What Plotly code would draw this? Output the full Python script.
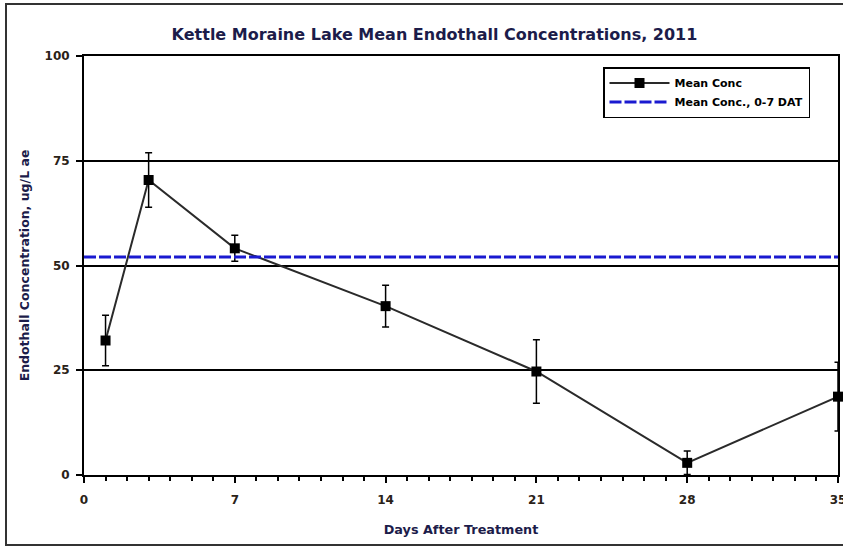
import plotly.graph_objects as go

days = [1, 3, 7, 14, 21, 28, 35]
mean_conc = [32.1, 70.4, 54.1, 40.3, 24.7, 2.9, 18.7]
err = [6.0, 6.5, 3.1, 5.0, 7.6, 2.8, 8.2]
mean_0_7 = 52.0
x_range = [0, 35]
x_ticks = [0, 7, 14, 21, 28, 35]
y_ticks = [0, 25, 50, 75, 100]

title_text = "Kettle Moraine Lake Mean Endothall Concentrations, 2011"
font_family = "DejaVu Sans, Verdana, sans-serif"
navy = "#1c1c4a"
tick_col = "#2a2218"

fig = go.Figure()

fig.add_trace(go.Scatter(
    x=days, y=mean_conc, mode="lines+markers", name="<b>Mean Conc</b>",
    line=dict(color="#2a2a2a", width=2),
    marker=dict(symbol="square", size=10, color="black"),
    error_y=dict(type="data", array=err, visible=True, color="black", thickness=1.5, width=3.5),
    cliponaxis=False,
))

fig.add_trace(go.Scatter(
    x=x_range, y=[mean_0_7, mean_0_7], mode="lines", name="<b>Mean Conc., 0-7 DAT</b>",
    line=dict(color="#1a1ad0", width=3, dash="12px,3px"),
))

fig.update_layout(
    width=843, height=546,
    margin=dict(l=84, r=5, t=56, b=71, autoexpand=False),
    paper_bgcolor="white", plot_bgcolor="white",
    font=dict(family=font_family, color="black", size=11),
    title=dict(text="<b>" + title_text + "</b>", x=(168 + 701) / 2 / 843, xanchor="center",
               y=1 - 34 / 546, yanchor="middle", font=dict(size=16, color=navy)),
    showlegend=True,
    legend=dict(x=(603 - 84) / 754, xanchor="left", y=(475 - 67) / 419, yanchor="top",
                bordercolor="black", borderwidth=1.5, bgcolor="white",
                font=dict(size=11, color="black"), tracegroupgap=0,
                itemwidth=60),
    xaxis=dict(range=x_range, tickvals=x_ticks, ticktext=[f"<b>{t}</b>" for t in x_ticks],
               showgrid=False, zeroline=False, showline=True, linecolor="black", linewidth=2,
               ticks="outside", ticklen=6, tickwidth=2, tickcolor="black",
               minor=dict(dtick=1, ticks="outside", ticklen=4, tickwidth=1.5, tickcolor="black", showgrid=False),
               mirror=True, ticklabelstandoff=7, automargin=False, ticklabeloverflow="allow",
               title=dict(text="<b>Days After Treatment</b>", font=dict(size=12.8, color=navy), standoff=19),
               tickfont=dict(size=12, color=tick_col)),
    yaxis=dict(range=[0, 100], tickvals=y_ticks, ticktext=[f"<b>{t}</b>" for t in y_ticks],
               showgrid=True, gridcolor="black", gridwidth=1.5, zeroline=False,
               showline=True, linecolor="black", linewidth=2,
               ticks="outside", ticklen=6, tickwidth=2, tickcolor="black",
               mirror=True, ticklabelstandoff=4, automargin=False, ticklabeloverflow="allow",
               title=dict(text="<b>Endothall Concentration, ug/L ae</b>", font=dict(size=12.5, color=navy), standoff=12),
               tickfont=dict(size=12, color=tick_col)),
)

# outer frame of the chart
fig.add_shape(type="rect", xref="paper", yref="paper",
              x0=(6 - 84) / 754, x1=1.03, y0=(475 - 545) / 419, y1=(475 - 4) / 419,
              line=dict(color="#333333", width=2), fillcolor="rgba(0,0,0,0)", layer="below")

fig.write_html("out.html", config={"displayModeBar": False},
               post_script="document.body.style.margin='0';document.body.style.overflow='hidden';")
